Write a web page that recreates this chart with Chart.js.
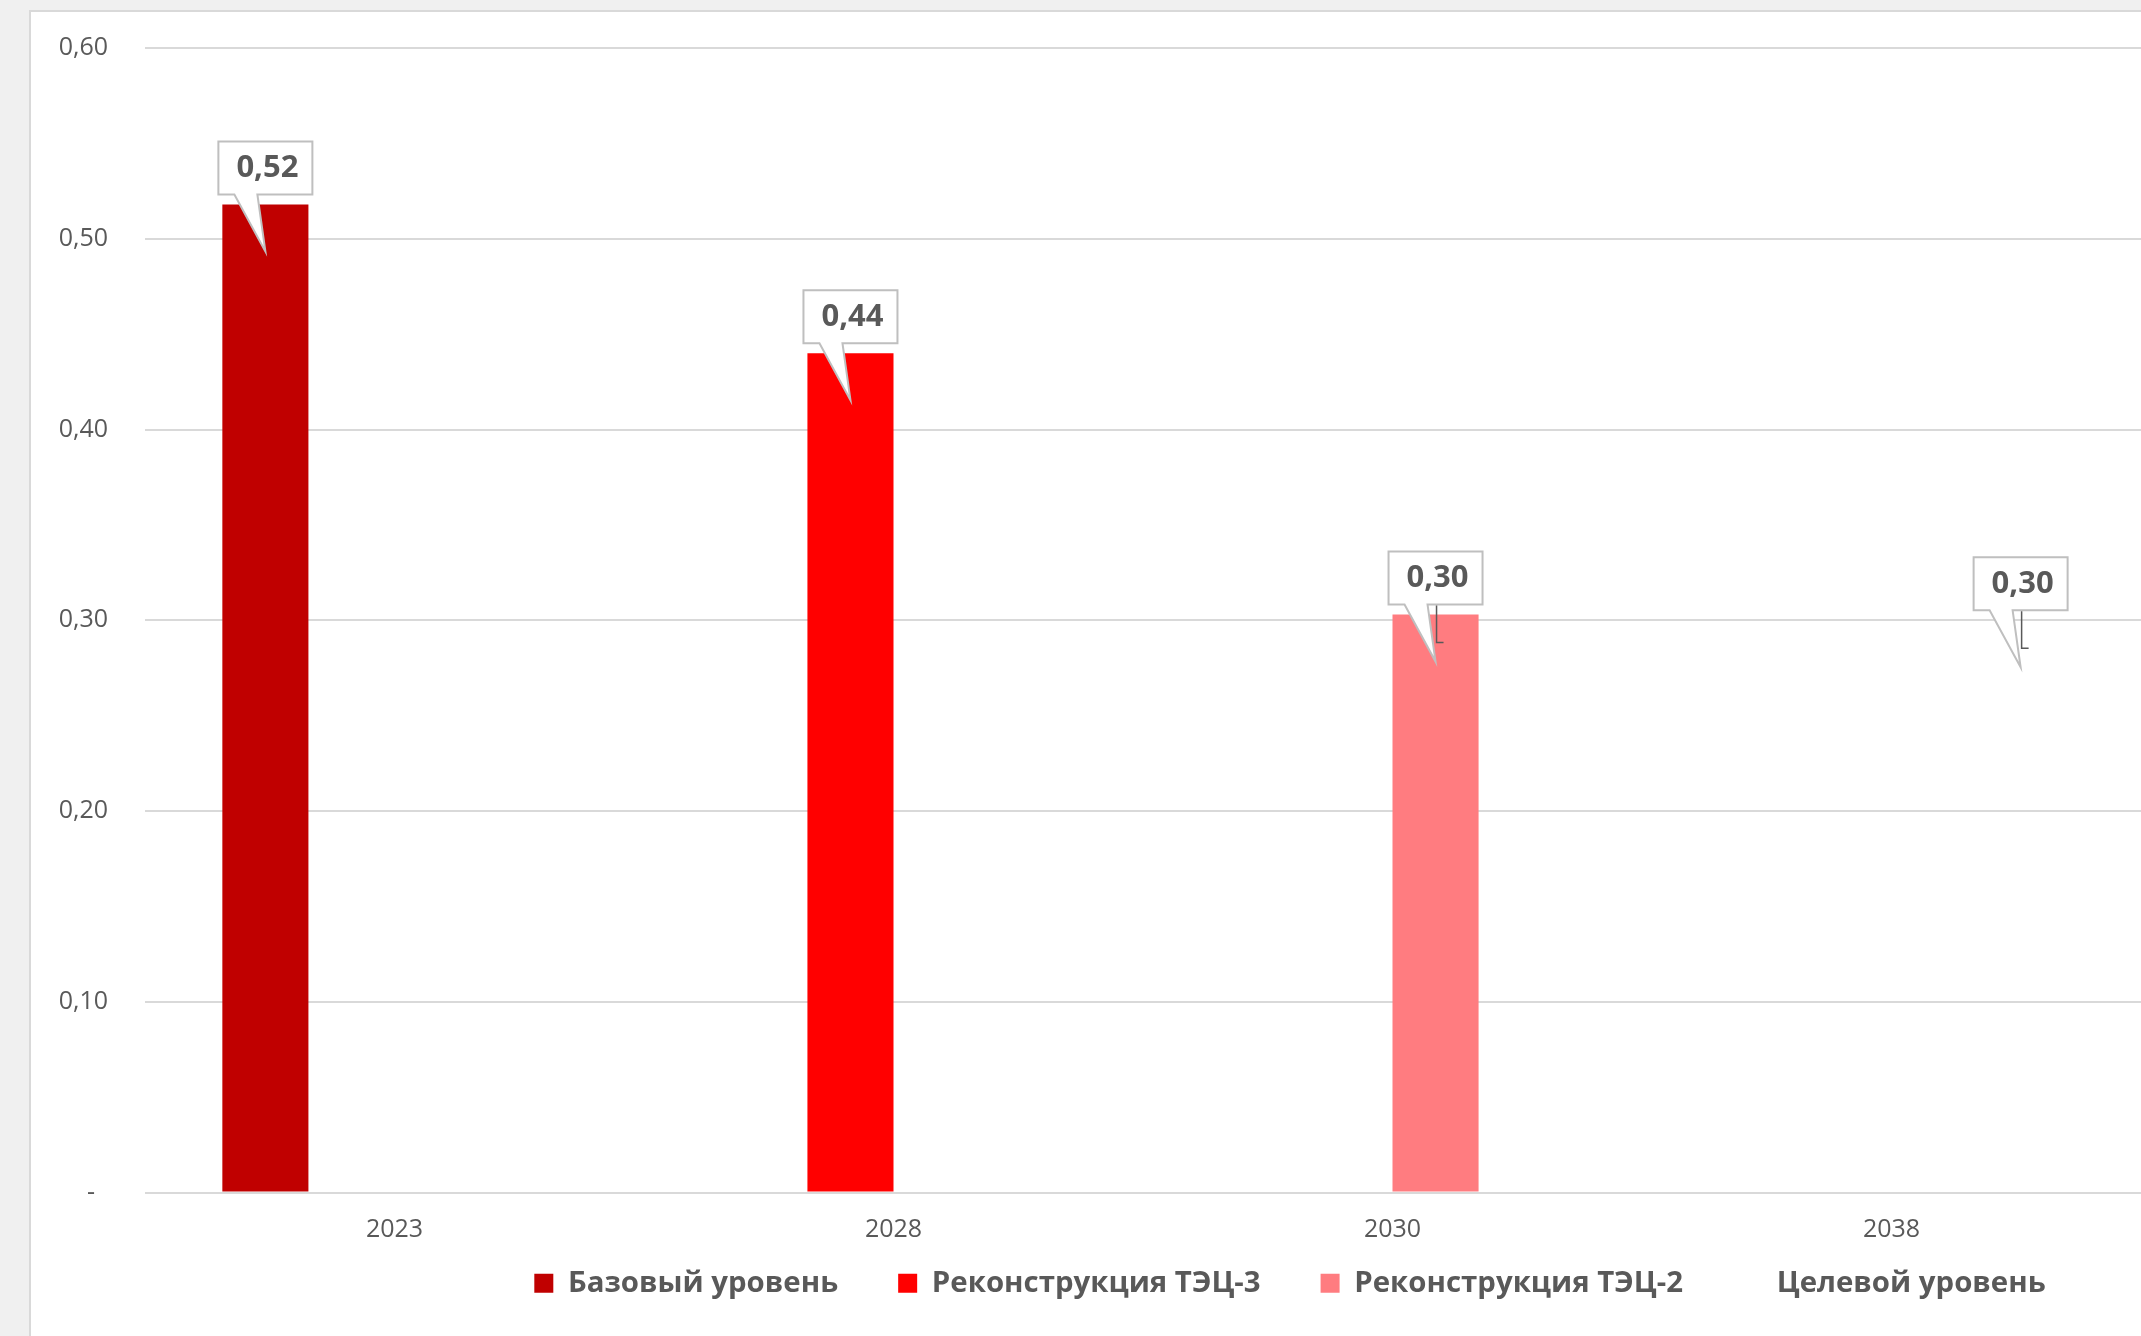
<!DOCTYPE html>
<html>
<head>
<meta charset="utf-8">
<script src="https://cdn.jsdelivr.net/npm/chart.js@4.4.1/dist/chart.umd.min.js"></script>
<style>
html, body { margin:0; padding:0; overflow:hidden; background:#f0f0f0; width:2141px; height:1336px; }
#box { position:absolute; left:29px; top:10px; width:2600px; height:1400px; background:#fff; border-left:2px solid #d9d9d9; border-top:2px solid #d9d9d9; }
#chart { position:absolute; left:0; top:0; }
</style>
</head>
<body>
<div id="box"><canvas id="chart" width="2518" height="1340"></canvas></div>
<script>
// data
const categories = ['2023', '2028', '2030', '2038'];
const seriesNames = ['Базовый уровень', 'Реконструкция ТЭЦ-3', 'Реконструкция ТЭЦ-2', 'Целевой уровень'];
const baseLevel = [0.518, null, null, null];
const tec3 = [null, 0.44, null, null];
const tec2 = [null, null, 0.303, null];
const targetLevel = [null, null, null, 0.30];
const yTickLabels = ['-  ', '0,10', '0,20', '0,30', '0,40', '0,50', '0,60'];

const grey = '#595959';
const font = '"Open Sans", sans-serif';

// speech-bubble labels like the excel callouts
const callouts = {
    id: 'callouts',
    afterLayout(chart) {
        // pull the legend up closer to the axis labels
        chart.legend.top -= 44;
        chart.legend.bottom -= 44;
    },
    afterDatasetsDraw(chart) {
        const ctx = chart.ctx;
        chart.data.datasets.forEach((ds, di) => {
            const meta = chart.getDatasetMeta(di);
            meta.data.forEach((bar, i) => {
                const v = ds.data[i];
                if (v == null) return;
                const txt = v.toFixed(2).replace('.', ',');
                const cx = bar.x, top = bar.y;
                const w = 94, h = 53;
                const bb = top - 10, bt = bb - h;
                ctx.save();
                ctx.beginPath();
                ctx.moveTo(cx - w / 2, bt);
                ctx.lineTo(cx + w / 2, bt);
                ctx.lineTo(cx + w / 2, bb);
                ctx.lineTo(cx - 8, bb);
                ctx.lineTo(cx, top + 47);
                ctx.lineTo(cx - 31, bb);
                ctx.lineTo(cx - w / 2, bb);
                ctx.closePath();
                ctx.fillStyle = '#fff';
                ctx.fill();
                ctx.strokeStyle = '#bfbfbf';
                ctx.lineWidth = 2;
                ctx.stroke();
                if (ds.leader) {
                    ctx.beginPath();
                    ctx.moveTo(cx + 1, bb + 1);
                    ctx.lineTo(cx + 1, bb + 38);
                    ctx.lineTo(cx + 8, bb + 38);
                    ctx.strokeStyle = grey;
                    ctx.lineWidth = 1.5;
                    ctx.stroke();
                }
                ctx.fillStyle = grey;
                ctx.font = 'bold 31px ' + font;
                ctx.textAlign = 'center';
                ctx.textBaseline = 'middle';
                ctx.fillText(txt, cx + 2, (bt + bb) / 2);
                ctx.restore();
            });
        });
    }
};

const data = {
    labels: categories,
    datasets: [
        { label: seriesNames[0], data: baseLevel, backgroundColor: '#C00000', borderWidth: 0 },
        { label: seriesNames[1], data: tec3, backgroundColor: '#FF0000', borderWidth: 0 },
        { label: seriesNames[2], data: tec2, backgroundColor: '#FF7C80', borderWidth: 0, leader: true },
        { label: seriesNames[3], data: targetLevel, backgroundColor: 'rgba(0,0,0,0)', borderColor: 'rgba(0,0,0,0)', borderWidth: 0, leader: true }
    ]
};

const config = {
    type: 'bar',
    data: data,
    options: {
        responsive: false,
        animation: false,
        categoryPercentage: 0.69,
        barPercentage: 1.0,
        layout: { padding: { top: 36, left: 0, right: 0, bottom: 0 } },
        plugins: {
            tooltip: { enabled: false },
            legend: {
                position: 'bottom',
                labels: {
                    color: grey,
                    font: { family: font, size: 29.4, weight: 'bold' },
                    boxWidth: 19,
                    boxHeight: 19,
                    padding: 60
                }
            }
        },
        scales: {
            x: {
                grid: { display: false },
                border: { display: false },
                ticks: { color: grey, font: { family: font, size: 25 }, padding: 14 },
                afterFit(s) { s.height = 60; }
            },
            y: {
                min: 0,
                max: 0.6,
                ticks: {
                    stepSize: 0.1,
                    color: grey,
                    font: { family: font, size: 25 },
                    padding: 37,
                    callback: (v, i) => yTickLabels[i]
                },
                grid: { color: '#d9d9d9', lineWidth: 2, drawTicks: false },
                border: { display: false },
                afterFit(s) {
                    s.width = 114;
                    s.paddingTop = 0;
                    s.paddingBottom = 0;
                }
            },
            y2: {
                position: 'right',
                grid: { display: false },
                border: { display: false },
                ticks: { display: false },
                afterFit(s) {
                    s.width = 408;
                    s.paddingTop = 0;
                    s.paddingBottom = 0;
                }
            }
        }
    },
    plugins: [callouts]
};

const myChart = new Chart(document.getElementById('chart'), config);
</script>
</body>
</html>
